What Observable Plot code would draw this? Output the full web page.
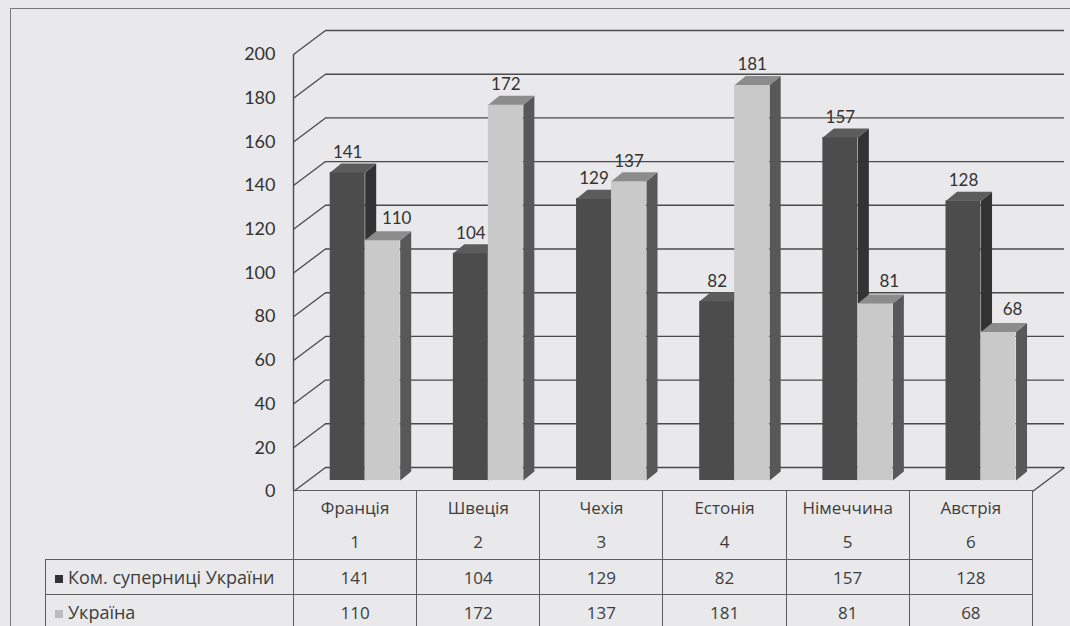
<!DOCTYPE html>
<html>
<head>
<meta charset="utf-8">
<script src="https://cdn.jsdelivr.net/npm/d3@7"></script>
<script src="https://cdn.jsdelivr.net/npm/@observablehq/plot@0.6"></script>
<style>
  html, body { margin: 0; padding: 0; background: #e9e9eb; }
  #wrap { position: relative; width: 1070px; height: 626px; background: #e9e9eb; overflow: hidden; font-family: "Open Sans", sans-serif; color: #3a3a3a; }
  #frame { position: absolute; left: 10px; top: 8px; width: 1100px; height: 700px; border: 1.5px solid #7a7a7a; box-sizing: border-box; }
  #chart { position: absolute; left: 0; top: 0; }
  #chart svg { overflow: visible; background: transparent; }
  #tbl { position: absolute; left: 45px; top: 490px; border-collapse: collapse; table-layout: fixed; font-size: 17px; color: #3d3d3d; }
  #tbl td { border: 1.3px solid #5e5e5e; text-align: center; padding: 0; vertical-align: middle; white-space: nowrap; overflow: hidden; }
  #tbl td.blank { border-top: none; border-left: none; border-bottom: 1.3px solid #5e5e5e; }
  #tbl td.lab { text-align: left; padding-left: 9px; font-size: 18px; }
  #tbl .line { height: 34px; line-height: 34px; }
  .mk { display: inline-block; width: 8px; height: 8px; margin-right: 5px; vertical-align: 1px; }
</style>
</head>
<body>
<div id="wrap">
  <div id="frame"></div>
  <div id="chart"></div>
</div>
<script>
// ---- data ----
const countries = ["Франція", "Швеція", "Чехія", "Естонія", "Німеччина", "Австрія"];
const countryNumbers = ["1", "2", "3", "4", "5", "6"];
const rivals = [141, 104, 129, 82, 157, 128];
const ukraine = [110, 172, 137, 181, 81, 68];
const seriesNames = ["Ком. суперниці України", "Україна"];
const yTicks = [0, 20, 40, 60, 80, 100, 120, 140, 160, 180, 200];

// ---- geometry / style ----
const W = 1070, H = 492, ML = 293, MR = 38, MT = 54, MB = 1;
const pxX = countries.length / (W - ML - MR);   // data units per pixel (x)
const pxY = 200 / (H - MT - MB);                 // data units per pixel (y)
const wallDX = 32, wallDY = 24;                   // wall depth in px
const barDX = 14.7, barDY = 11;                   // bar front-face depth shift in px
const inner = 22, bw = 35, bdx = 11, bdy = 9;     // bar offset, width, bar depth

const palette = [
  {front: "#4c4c4c", top: "#5c5c5c", side: "#333333"},
  {front: "#c9c9c9", top: "#8c8c8c", side: "#585858"}
];

const series = [rivals, ukraine];
const fronts = [[], []], sides = [[], []], tops = [[], []], labels = [];
series.forEach((vals, s) => {
  vals.forEach((v, i) => {
    const x1 = i + (inner + s * bw) * pxX;
    const x2 = x1 + bw * pxX;
    const ox = bdx * pxX, oy = bdy * pxY;
    const id = s + "-" + i;
    fronts[s].push({x1, x2, v});
    sides[s].push(
      {id, x: x2, y: 0}, {id, x: x2, y: v}, {id, x: x2 + ox, y: v + oy}, {id, x: x2 + ox, y: oy}
    );
    tops[s].push(
      {id, x: x1, y: v}, {id, x: x2, y: v}, {id, x: x2 + ox, y: v + oy}, {id, x: x1 + ox, y: v + oy}
    );
    // a label of the second bar is nudged right when the first bar of the pair is taller
    const nudge = s === 1 && series[0][i] > v ? 14 : 0;
    labels.push({x: (x1 + x2) / 2, v, label: String(v), nudge});
  });
});

const barMarks = [];
for (let s = 0; s < 2; s++) {
  barMarks.push(
    Plot.line(sides[s], {x: "x", y: "y", z: "id", fill: palette[s].side, stroke: "none", curve: "linear-closed", dx: barDX, dy: -barDY}),
    Plot.rect(fronts[s], {x1: "x1", x2: "x2", y1: 0, y2: "v", fill: palette[s].front, dx: barDX, dy: -barDY}),
    Plot.line(tops[s], {x: "x", y: "y", z: "id", fill: palette[s].top, stroke: "none", curve: "linear-closed", dx: barDX, dy: -barDY})
  );
}
const plainLabels = labels.filter(d => d.nudge === 0);
const nudgedLabels = labels.filter(d => d.nudge !== 0);

const gridColor = "#4a4a4a";
const plot = Plot.plot({
  width: W, height: H,
  marginLeft: ML, marginRight: MR, marginTop: MT, marginBottom: MB,
  style: {fontFamily: "Lato, 'Open Sans', sans-serif", fontSize: "18px", color: "#333", background: "transparent", overflow: "visible"},
  x: {domain: [0, countries.length], axis: null},
  y: {domain: [0, 200], ticks: yTicks, tickSize: 0, tickPadding: 18, label: null, tickFormat: d => String(d)},
  marks: [
    Plot.ruleY(yTicks, {dx: wallDX, dy: -wallDY, stroke: gridColor, strokeWidth: 1.4}),
    Plot.link(yTicks, {x1: 0, y1: d => d, x2: wallDX * pxX, y2: d => d + wallDY * pxY, stroke: gridColor, strokeWidth: 1.3}),
    Plot.link([0], {x1: countries.length, y1: 0, x2: countries.length + wallDX * pxX, y2: wallDY * pxY, stroke: gridColor, strokeWidth: 1.3}),
    Plot.ruleX([0], {y1: 0, y2: 200, stroke: gridColor, strokeWidth: 1.4}),
    ...barMarks,
    Plot.text(plainLabels, {x: "x", y: "v", text: "label", dx: barDX, dy: -barDY - 20, fontSize: 17, fill: "#333"}),
    Plot.text(nudgedLabels, {x: "x", y: "v", text: "label", dx: barDX + 14, dy: -barDY - 22, fontSize: 17, fill: "#333"})
  ]
});
document.getElementById("chart").appendChild(plot);

// ---- data table (legend + x axis) below the svg ----
const colW = (W - ML - MR) / countries.length;
const tbl = document.createElement("table");
tbl.id = "tbl";
const cg = document.createElement("colgroup");
const c0 = document.createElement("col"); c0.style.width = (ML - 45) + "px"; cg.appendChild(c0);
countries.forEach(() => { const c = document.createElement("col"); c.style.width = colW + "px"; cg.appendChild(c); });
tbl.appendChild(cg);
tbl.style.width = (ML - 45 + colW * countries.length) + "px";

const hr = document.createElement("tr");
hr.style.height = "68px";
const blank = document.createElement("td"); blank.className = "blank"; hr.appendChild(blank);
countries.forEach((c, i) => {
  const td = document.createElement("td");
  td.innerHTML = `<div class="line">${c}</div><div class="line">${countryNumbers[i]}</div>`;
  hr.appendChild(td);
});
tbl.appendChild(hr);

const mkColors = ["#333", "#bdbdbd"];
series.forEach((vals, s) => {
  const tr = document.createElement("tr");
  tr.style.height = "35px";
  const lab = document.createElement("td");
  lab.className = "lab";
  lab.innerHTML = `<span class="mk" style="background:${mkColors[s]}"></span>${seriesNames[s]}`;
  tr.appendChild(lab);
  vals.forEach(v => {
    const td = document.createElement("td");
    td.textContent = v;
    tr.appendChild(td);
  });
  tbl.appendChild(tr);
});
document.getElementById("wrap").appendChild(tbl);
</script>
</body>
</html>
